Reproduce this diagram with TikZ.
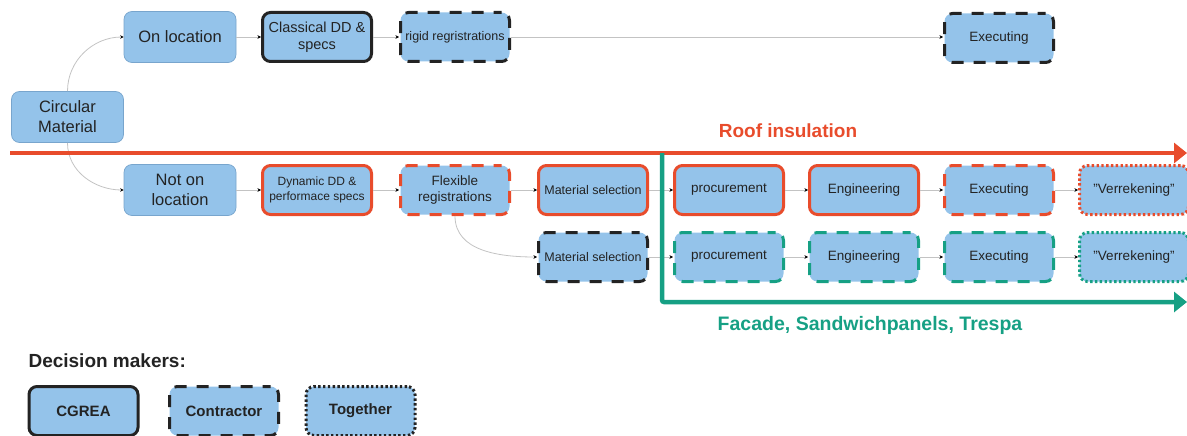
\documentclass[tikz,border=0pt]{standalone}
\usepackage{fontspec}
\setmainfont{Liberation Sans}
\usetikzlibrary{arrows.meta}

\definecolor{boxfill}{RGB}{148,195,234}
\definecolor{boxedge}{RGB}{120,165,205}
\definecolor{roofred}{RGB}{232,76,44}
\definecolor{facadegreen}{RGB}{22,160,132}
\definecolor{linkgray}{RGB}{195,195,195}
\definecolor{ink}{RGB}{35,35,35}

\newcommand{\straightquote}{\symbol{34}}

\tikzset{
  stage/.style={fill=boxfill, rounded corners=8pt, line width=3pt,
    minimum width=109pt, minimum height=49pt, inner sep=1pt, align=center,
    text=ink, font=\fontsize{13.5}{16}\selectfont},
  start/.style={stage, draw=boxedge, line width=0.7pt,
    minimum width=112pt, minimum height=51pt, font=\fontsize{16.5}{20}\selectfont},
  smalltext/.style={font=\fontsize{12.5}{15}\selectfont},
  solidedge/.style={draw=#1},
  dashededge/.style={draw=#1, dash pattern=on 12pt off 10pt, dash phase=4pt},
  dottededge/.style={draw=#1, dash pattern=on 2.4pt off 2.4pt},
  link/.style={draw=linkgray, line width=0.8pt,
    -{Stealth[length=3.5pt,width=3.5pt,color=black]}},
  legendbox/.style={stage, font=\bfseries\fontsize{15}{18}\selectfont},
  bigarrow/.style={line width=4.5pt, -{Triangle[length=13pt,width=20pt]}},
}

\begin{document}
\begin{tikzpicture}[x=1pt,y=-1pt]
\useasboundingbox (0,0) rectangle (1187,436);

% starting point and the two branches
\node[start] (circ) at (67.5,117) {Circular\\Material};
\node[start] (onloc) at (180,37) {On location};
\node[start] (notloc) at (180,190) {Not on\\location};

% on-location branch
\node[stage, solidedge=ink, font=\fontsize{14.5}{17}\selectfont] (classical) at (317,37) {Classical DD \&\\specs};
\node[stage, dashededge=ink, smalltext] (rigid) at (455,37) {rigid regristrations};
\node[stage, dashededge=ink] (exectop) at (999,38) {Executing};

% not-on-location branch, roof insulation
\node[stage, solidedge=roofred, font=\fontsize{12}{14.5}\selectfont] (dyn) at (317,190) {Dynamic DD \&\\performace specs};
\node[stage, dashededge=roofred] (flex) at (455,190) {Flexible\\registrations};
\node[stage, solidedge=roofred, smalltext] (matred) at (593,190) {Material selection};
\node[stage, solidedge=roofred] (procred) at (729,190) {procurement};
\node[stage, solidedge=roofred] (engred) at (864,190) {Engineering};
\node[stage, dashededge=roofred] (execred) at (999,190) {Executing};
\node[stage, dottededge=roofred] (verred) at (1134,190) {\straightquote Verrekening\straightquote};

% facade / sandwich panels row
\node[stage, dashededge=ink, smalltext] (matgreen) at (593,257) {Material selection};
\node[stage, dashededge=facadegreen] (procgreen) at (729,257) {procurement};
\node[stage, dashededge=facadegreen] (enggreen) at (864,257) {Engineering};
\node[stage, dashededge=facadegreen] (execgreen) at (999,257) {Executing};
\node[stage, dottededge=facadegreen] (vergreen) at (1134,257) {\straightquote Verrekening\straightquote};

% connectors
\draw[link] (circ.north) to[out=90,in=180] (onloc.west);
\draw[link] (circ.south) to[out=-90,in=180] (notloc.west);
\draw[link] (onloc) -- (classical);
\draw[link] (classical) -- (rigid);
\draw[link] (rigid.east) -- (rigid.east -| exectop.west);
\draw[link] (notloc) -- (dyn);
\draw[link] (dyn) -- (flex);
\draw[link] (flex) -- (matred);
\draw[link] (matred) -- (procred);
\draw[link] (procred) -- (engred);
\draw[link] (engred) -- (execred);
\draw[link] (execred) -- (verred);
\draw[link] (flex.south) to[out=-90,in=180] (matgreen.west);
\draw[link] (matgreen) -- (procgreen);
\draw[link] (procgreen) -- (enggreen);
\draw[link] (enggreen) -- (execgreen);
\draw[link] (execgreen) -- (vergreen);

% scope arrows
\coordinate (roofstart) at (10,153);
\coordinate (roofend) at (1187,153);
\coordinate (facadestart) at (662,153);
\coordinate (facadeend) at (1187,302);
\draw[bigarrow, roofred] (roofstart) -- (roofend);
\draw[bigarrow, facadegreen, rounded corners=2pt] (facadestart) |- (facadeend);
\node[text=roofred, font=\bfseries\fontsize{19}{22}\selectfont] (rooflabel) at (788,131) {Roof insulation};
\node[text=facadegreen, font=\bfseries\fontsize{19.5}{23}\selectfont] (facadelabel) at (870,325) {Facade, Sandwichpanels, Trespa};

% legend
\node[anchor=west, text=ink, font=\bfseries\fontsize{19}{22}\selectfont] (legendtitle) at (25,361) {Decision makers:};
\node[legendbox, solidedge=ink] (cgrea) at (83.5,411) {CGREA};
\node[legendbox, dashededge=ink] (contractor) at (224,411) {Contractor};
\node[legendbox, dottededge=ink] (together) at (360.5,411) {Together};
\end{tikzpicture}
\end{document}
